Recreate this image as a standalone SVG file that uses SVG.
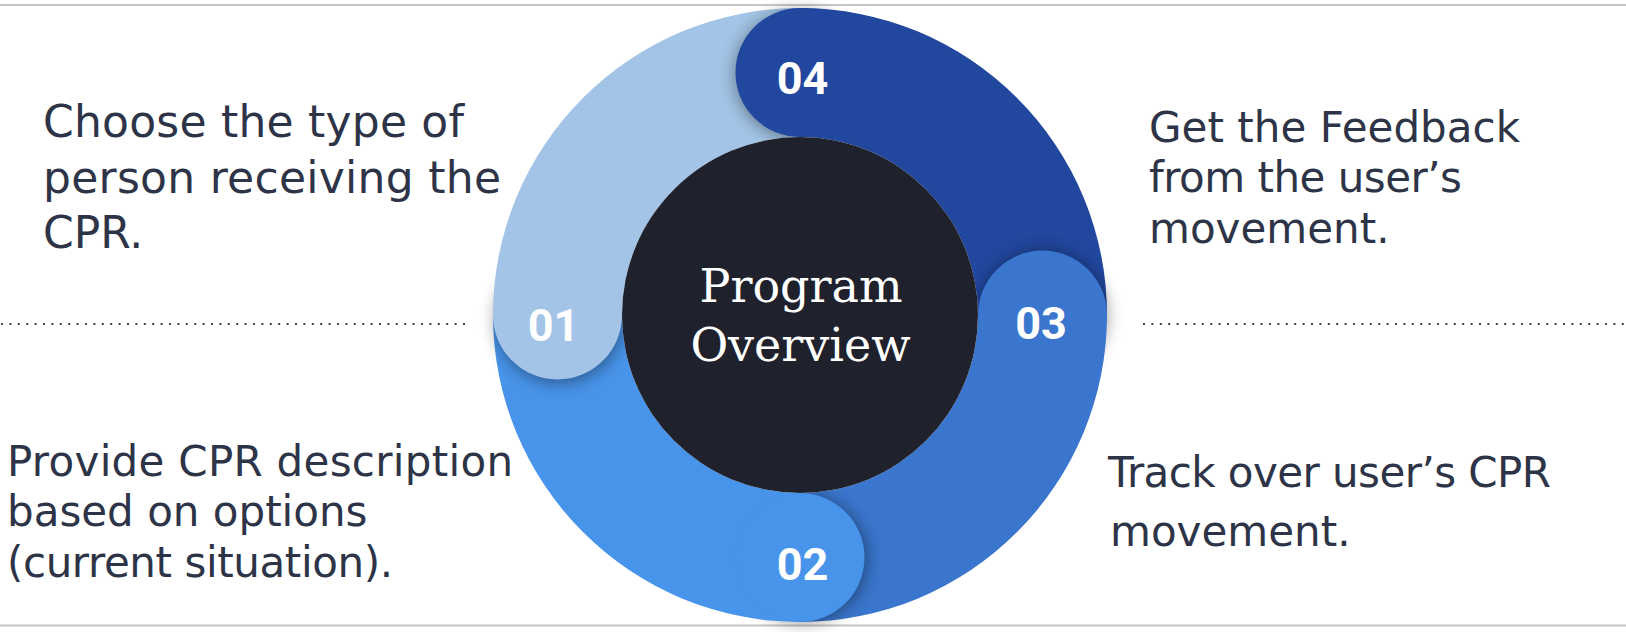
<svg xmlns="http://www.w3.org/2000/svg" width="1626" height="632" viewBox="0 0 1626 632">
  <style>
    .rule { stroke: #c6c6c6; stroke-width: 2; fill: none; }
    .dots { stroke: #3c4254; stroke-width: 2; stroke-dasharray: 2 6.4; fill: none; }
    .body { font-family: "DejaVu Sans", "Liberation Sans", sans-serif; fill: #2e3447; }
    .num { font-family: Roboto, "Liberation Sans", sans-serif; font-weight: 700; font-size: 45px; fill: #ffffff; text-anchor: middle; }
    .title { font-family: "DejaVu Serif", "Liberation Serif", serif; font-size: 46px; fill: #ffffff; text-anchor: middle; }
    .shade { fill: #000000; opacity: 0.38; filter: url(#blur); }
  </style>
  <defs>
    <filter id="blur" x="-60%" y="-60%" width="220%" height="220%">
      <feGaussianBlur stdDeviation="8"/>
    </filter>
    <!-- each cap casts its shadow only onto the following segment and outside the ring -->
    <clipPath id="clip-01">
      <rect x="0" y="315" width="800" height="317"/>
      <path clip-rule="evenodd" d="M0 0H1626V632H0Z M493 315a307 307 0 1 0 614 0a307 307 0 1 0 -614 0Z"/>
    </clipPath>
    <clipPath id="clip-02">
      <rect x="800" y="315" width="826" height="317"/>
      <path clip-rule="evenodd" d="M0 0H1626V632H0Z M493 315a307 307 0 1 0 614 0a307 307 0 1 0 -614 0Z"/>
    </clipPath>
    <clipPath id="clip-03">
      <rect x="800" y="0" width="826" height="315"/>
      <path clip-rule="evenodd" d="M0 0H1626V632H0Z M493 315a307 307 0 1 0 614 0a307 307 0 1 0 -614 0Z"/>
    </clipPath>
    <clipPath id="clip-04">
      <rect x="0" y="0" width="800" height="315"/>
      <path clip-rule="evenodd" d="M0 0H1626V632H0Z M493 315a307 307 0 1 0 614 0a307 307 0 1 0 -614 0Z"/>
    </clipPath>
  </defs>

  <rect width="1626" height="632" fill="#ffffff"/>

  <!-- frame rules and dotted separators -->
  <g id="rules">
    <line class="rule" x1="0" y1="5" x2="1626" y2="5"/>
    <line class="rule" x1="0" y1="625.5" x2="1626" y2="625.5"/>
    <line class="dots" x1="1" y1="324" x2="466" y2="324"/>
    <line class="dots" x1="1143" y1="324" x2="1626" y2="324"/>
  </g>

  <!-- ring segments -->
  <g id="ring">
    <path id="seg-01" fill="#a3c4e6" d="M493 315A307 307 0 0 1 800 8L800 137A178 178 0 0 0 622 315Z"/>
    <path id="seg-02" fill="#4894ea" d="M800 622A307 307 0 0 1 493 315L622 315A178 178 0 0 0 800 493Z"/>
    <path id="seg-03" fill="#3a76cd" d="M1107 315A307 307 0 0 1 800 622L800 493A178 178 0 0 0 978 315Z"/>
    <path id="seg-04" fill="#21479e" d="M800 8A307 307 0 0 1 1107 315L978 315A178 178 0 0 0 800 137Z"/>
  </g>

  <g id="node-01">
    <g clip-path="url(#clip-01)"><circle class="shade" cx="559" cy="319" r="64.5"/></g>
    <circle cx="557.5" cy="315" r="64.5" fill="#a3c4e6"/>
    <text class="num" x="553.5" y="341">01</text>
  </g>
  <g id="node-02">
    <g clip-path="url(#clip-02)"><circle class="shade" cx="803" cy="559" r="64.5"/></g>
    <circle cx="800" cy="557.5" r="64.5" fill="#4894ea"/>
    <text class="num" x="802.5" y="580">02</text>
  </g>
  <g id="node-03">
    <g clip-path="url(#clip-03)"><circle class="shade" cx="1043" cy="315" r="64.5"/></g>
    <circle cx="1042.5" cy="315" r="64.5" fill="#3a76cd"/>
    <text class="num" x="1041" y="339">03</text>
  </g>
  <g id="node-04">
    <g clip-path="url(#clip-04)"><circle class="shade" cx="799" cy="75" r="64.5"/></g>
    <circle cx="800" cy="72.5" r="64.5" fill="#21479e"/>
    <text class="num" x="802.5" y="94">04</text>
  </g>

  <g id="hub">
    <circle cx="800" cy="315" r="178" fill="#1f222c"/>
    <text class="title" x="801" y="302">Program</text>
    <text class="title" x="800.5" y="361">Overview</text>
  </g>

  <g id="text-01" class="body" font-size="44">
    <text x="43" y="137" textLength="421" lengthAdjust="spacing">Choose the type of</text>
    <text x="43" y="193" textLength="458" lengthAdjust="spacing">person receiving the</text>
    <text x="43" y="248">CPR.</text>
  </g>
  <g id="text-02" class="body" font-size="42">
    <text x="7" y="476" textLength="506" lengthAdjust="spacing">Provide CPR description</text>
    <text x="7" y="526">based on options</text>
    <text x="7" y="577" textLength="386" lengthAdjust="spacing">(current situation).</text>
  </g>
  <g id="text-03" class="body" font-size="42">
    <text x="1108" y="487" textLength="443" lengthAdjust="spacing">Track over user’s CPR</text>
    <text x="1110" y="546">movement.</text>
  </g>
  <g id="text-04" class="body" font-size="42">
    <text x="1149" y="142" textLength="371" lengthAdjust="spacing">Get the Feedback</text>
    <text x="1149" y="192" textLength="313" lengthAdjust="spacing">from the user’s</text>
    <text x="1149" y="243">movement.</text>
  </g>
</svg>
